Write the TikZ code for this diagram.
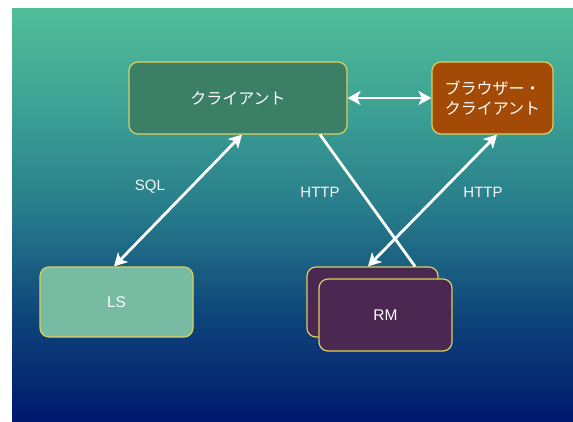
\documentclass[tikz,border=0pt]{standalone}
\usepackage{fontspec}
\setmainfont{Liberation Sans}
\newfontfamily\jp{Noto Sans CJK JP}
\usetikzlibrary{arrows.meta}
\definecolor{bgA}{RGB}{0,24,110}
\definecolor{bgB}{RGB}{14,68,122}
\definecolor{bgC}{RGB}{38,122,138}
\definecolor{bgD}{RGB}{60,160,148}
\definecolor{bgE}{RGB}{82,190,152}
\definecolor{clfill}{RGB}{59,128,102}
\definecolor{brfill}{RGB}{163,74,6}
\definecolor{lsfill}{RGB}{118,187,162}
\definecolor{rmfill}{RGB}{75,40,82}
\definecolor{edge}{RGB}{222,206,92}
\pgfdeclareverticalshading{bgshade}{100bp}{color(0bp)=(bgA); color(25bp)=(bgA); color(37.5bp)=(bgB); color(50bp)=(bgC); color(62.5bp)=(bgD); color(75bp)=(bgE); color(100bp)=(bgE)}
\tikzset{
  box/.style={draw=edge, line width=1.2pt, rounded corners=9pt, inner sep=0pt, text=white, font=\fontsize{15.5}{18}\selectfont},
  jpbox/.style={box, font=\jp\fontsize{16}{20}\selectfont, align=center},
  conn/.style={draw=white, line width=2.8pt},
  dbl/.style={conn, {Stealth[length=13pt,width=14pt,inset=3.5pt]}-{Stealth[length=13pt,width=14pt,inset=3.5pt]}},
  lbl/.style={text=white!92!gray, font=\fontsize{15}{18}\selectfont, inner sep=0pt}
}
\begin{document}
\begin{tikzpicture}[x=1pt,y=-1pt]
\useasboundingbox (0,0) rectangle (573,421);
\fill[white] (0,0) rectangle (573,421);
\fill[shading=bgshade] (12,8) rectangle (573,421);

\node[jpbox, fill=clfill, minimum width=218pt, minimum height=72pt] (cl) at (238,98) {クライアント};
\node[jpbox, fill=brfill, minimum width=121pt, minimum height=72pt] (br) at (492.5,98) {ブラウザー・\\クライアント};
\node[box, fill=lsfill, minimum width=153pt, minimum height=70pt] (ls) at (116.5,302) {LS};
\node[box, fill=rmfill, minimum width=131pt, minimum height=70pt] (rmb) at (372.5,302) {};
\node[box, fill=rmfill, minimum width=133pt, minimum height=72pt] (rm) at (385.5,315) {RM};

\draw[dbl] (cl.east) -- (br.west);
\draw[dbl] ([xshift=4pt]cl.south) -- ([xshift=-2.5pt]ls.north);
\draw[conn] ([xshift=82pt]cl.south) -- ([xshift=42.5pt]rmb.north);
\draw[dbl] ([xshift=-4.5pt]rmb.north) -- ([xshift=4.5pt]br.south);

\node[lbl] (sql) at (150,187) {SQL};
\node[lbl] (h1) at (320,192) {HTTP};
\node[lbl] (h2) at (483,192) {HTTP};
\end{tikzpicture}
\end{document}
